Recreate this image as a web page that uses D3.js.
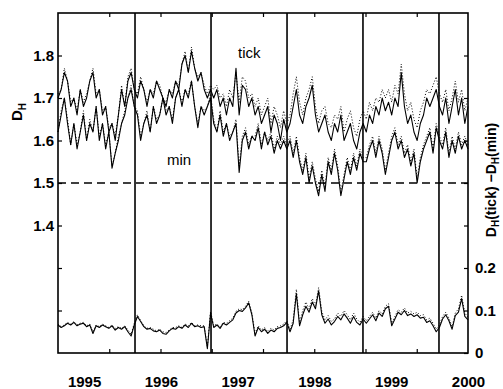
<!DOCTYPE html>
<html>
<head>
<meta charset="utf-8">
<script src="https://cdn.jsdelivr.net/npm/d3@7"></script>
<style>
  body { margin: 0; background: #fff; }
  svg { display: block; font-family: "Liberation Sans", Arial, sans-serif; }
</style>
</head>
<body>
<svg id="chart"></svg>
<script>
const width = 503, height = 389;

// fractal dimension D_H, sampled twice a month from mid 1994 to the end of 1999
const tickDH = [
  1.70,1.72,1.76,1.74,1.68,1.70,1.66,1.72,1.68,1.70,1.74,1.76,1.70,1.72,1.66,1.68,1.62,1.64,1.60,1.66,1.72,1.68,1.74,1.76,1.72,
  1.70,1.74,1.72,1.68,1.72,1.70,1.74,1.72,1.70,1.68,1.72,1.70,1.74,1.72,1.78,1.80,1.76,1.81,1.77,1.74,1.76,1.72,1.70,1.72,
  1.70,1.72,1.68,1.70,1.66,1.70,1.68,1.77,1.66,1.73,1.72,1.68,1.70,1.66,1.68,1.64,1.66,1.68,1.62,1.66,1.64,1.60,1.65,1.62,
  1.64,1.68,1.72,1.66,1.64,1.68,1.70,1.73,1.66,1.62,1.64,1.66,1.62,1.60,1.64,1.62,1.66,1.60,1.62,1.64,1.60,1.58,1.62,1.64,
  1.62,1.66,1.64,1.68,1.66,1.70,1.67,1.69,1.66,1.70,1.68,1.76,1.68,1.64,1.66,1.62,1.60,1.64,1.66,1.70,1.68,1.70,1.72,1.68,
  1.66,1.70,1.64,1.68,1.72,1.66,1.70,1.64,1.68
];
const tickDHalt = [
  1.71,1.72,1.77,1.74,1.69,1.70,1.67,1.72,1.69,1.71,1.74,1.77,1.71,1.72,1.67,1.68,1.63,1.64,1.61,1.66,1.73,1.68,1.75,1.77,1.72,
  1.71,1.75,1.72,1.69,1.72,1.71,1.74,1.73,1.70,1.69,1.72,1.71,1.74,1.73,1.78,1.81,1.76,1.82,1.77,1.75,1.76,1.73,1.71,1.73,
  1.72,1.73,1.70,1.71,1.68,1.72,1.70,1.76,1.69,1.75,1.74,1.70,1.71,1.68,1.70,1.66,1.68,1.70,1.64,1.68,1.66,1.63,1.67,1.64,
  1.66,1.71,1.75,1.69,1.66,1.70,1.72,1.75,1.68,1.64,1.67,1.68,1.64,1.63,1.66,1.65,1.68,1.62,1.65,1.67,1.63,1.61,1.65,1.67,
  1.65,1.69,1.67,1.70,1.69,1.72,1.70,1.72,1.69,1.73,1.71,1.78,1.71,1.67,1.69,1.65,1.63,1.67,1.69,1.72,1.71,1.73,1.75,1.71,
  1.69,1.72,1.67,1.70,1.74,1.69,1.72,1.67,1.70
];
const minDH = [
  1.62,1.66,1.70,1.64,1.59,1.64,1.58,1.62,1.66,1.60,1.64,1.62,1.68,1.60,1.64,1.58,1.62,1.535,1.57,1.60,1.64,1.66,1.70,1.72,1.68,
  1.66,1.60,1.64,1.66,1.62,1.68,1.64,1.66,1.70,1.66,1.68,1.64,1.70,1.72,1.68,1.72,1.70,1.74,1.68,1.63,1.68,1.66,1.68,1.70,
  1.64,1.62,1.66,1.61,1.64,1.60,1.62,1.64,1.525,1.60,1.62,1.58,1.61,1.60,1.63,1.58,1.62,1.59,1.61,1.57,1.60,1.58,1.60,1.58,
  1.60,1.56,1.60,1.55,1.52,1.56,1.50,1.54,1.50,1.47,1.52,1.48,1.55,1.52,1.57,1.53,1.47,1.51,1.55,1.52,1.56,1.53,1.57,1.55,
  1.55,1.58,1.60,1.56,1.60,1.57,1.52,1.56,1.60,1.62,1.58,1.60,1.56,1.58,1.54,1.57,1.50,1.55,1.58,1.60,1.62,1.57,1.63,1.60,
  1.58,1.62,1.56,1.60,1.57,1.61,1.58,1.60,1.58
];
const minDHalt = [
  1.62,1.67,1.70,1.65,1.59,1.64,1.59,1.62,1.67,1.60,1.65,1.62,1.68,1.61,1.64,1.59,1.62,1.54,1.57,1.61,1.64,1.67,1.70,1.73,1.68,
  1.67,1.61,1.64,1.67,1.62,1.68,1.65,1.66,1.70,1.67,1.68,1.65,1.70,1.72,1.69,1.72,1.71,1.74,1.68,1.64,1.68,1.67,1.68,1.71,
  1.65,1.62,1.67,1.62,1.64,1.61,1.62,1.65,1.54,1.61,1.63,1.59,1.61,1.61,1.64,1.59,1.62,1.60,1.62,1.58,1.61,1.59,1.61,1.59,
  1.61,1.57,1.61,1.56,1.53,1.57,1.51,1.55,1.51,1.48,1.53,1.49,1.56,1.53,1.58,1.54,1.48,1.52,1.56,1.53,1.57,1.54,1.58,1.56,
  1.56,1.59,1.61,1.57,1.61,1.58,1.53,1.57,1.61,1.63,1.59,1.61,1.57,1.59,1.55,1.58,1.51,1.56,1.59,1.61,1.63,1.58,1.64,1.61,
  1.59,1.63,1.57,1.61,1.58,1.62,1.59,1.61,1.59
];
// D_H(tick) - D_H(min), right axis
const diffDH = [
  0.066,0.060,0.064,0.070,0.066,0.072,0.064,0.068,0.070,0.062,0.066,0.046,0.064,0.060,0.066,0.062,0.058,0.064,0.054,0.060,0.056,0.062,0.050,0.040,0.066,
  0.086,0.074,0.062,0.056,0.058,0.052,0.050,0.054,0.046,0.044,0.052,0.058,0.056,0.062,0.058,0.066,0.060,0.070,0.062,0.064,0.060,0.062,0.010,0.094,
  0.060,0.066,0.058,0.070,0.066,0.072,0.078,0.094,0.100,0.098,0.106,0.118,0.090,0.040,0.060,0.050,0.056,0.046,0.054,0.050,0.058,0.060,0.064,0.072,
  0.050,0.070,0.140,0.064,0.090,0.110,0.096,0.120,0.104,0.146,0.090,0.070,0.080,0.066,0.074,0.086,0.078,0.092,0.082,0.070,0.086,0.072,0.066,0.080,
  0.070,0.080,0.090,0.076,0.094,0.086,0.104,0.110,0.064,0.080,0.096,0.090,0.100,0.088,0.092,0.086,0.090,0.082,0.084,0.072,0.076,0.064,0.050,0.060,
  0.080,0.090,0.076,0.056,0.088,0.096,0.128,0.086,0.078
];
const diffDHalt = [
  0.068,0.062,0.066,0.072,0.068,0.074,0.066,0.070,0.072,0.064,0.068,0.050,0.066,0.062,0.068,0.064,0.060,0.066,0.058,0.062,0.058,0.064,0.054,0.044,0.070,
  0.090,0.076,0.064,0.058,0.060,0.056,0.052,0.056,0.050,0.048,0.054,0.060,0.060,0.064,0.060,0.068,0.064,0.072,0.064,0.066,0.064,0.064,0.014,0.098,
  0.064,0.068,0.062,0.072,0.070,0.076,0.082,0.098,0.104,0.102,0.110,0.122,0.094,0.046,0.064,0.054,0.060,0.050,0.058,0.054,0.062,0.064,0.068,0.076,
  0.056,0.078,0.150,0.072,0.100,0.120,0.104,0.128,0.112,0.154,0.098,0.078,0.088,0.074,0.080,0.094,0.086,0.100,0.090,0.078,0.094,0.080,0.072,0.086,
  0.076,0.086,0.096,0.082,0.100,0.092,0.110,0.116,0.070,0.086,0.102,0.096,0.106,0.094,0.098,0.092,0.096,0.088,0.090,0.078,0.082,0.070,0.056,0.066,
  0.086,0.096,0.082,0.062,0.094,0.104,0.136,0.094,0.084
];

const years = [1995, 1996, 1997, 1998, 1999, 2000];
const rollovers = [1995.663, 1996.653, 1997.643, 1998.632, 1999.622];
const leftTicks = [1.2, 1.3, 1.4, 1.5, 1.6, 1.7, 1.8];
const rightTicks = [0, 0.1, 0.2, 0.3, 0.4, 0.5, 0.6, 0.7];
const refLevel = 1.5;

const svg = d3.select("#chart")
  .attr("width", width)
  .attr("height", height)
  .attr("viewBox", [0, 0, width, height]);

const x = d3.scaleLinear().domain([1994.66, 2000.0]).range([58, 468]);
const xi = d3.scaleLinear().domain([0, tickDH.length - 1]).range(x.range());
const yL = d3.scaleLinear().domain([1.1, 1.9]).range([353, 13]);
const yR = d3.scaleLinear().domain([0, 0.8]).range([353, 13]);

const [x0, x1] = x.domain();
const frameTicks = d3.range(1, 8).map(k => x0 + k * (x1 - x0) / 8);

function styleAxis(g) {
  g.select(".domain").remove();
  g.selectAll("line").attr("stroke", "#000").attr("stroke-width", 1.2);
  g.selectAll("text")
    .attr("font-family", "'Liberation Sans', Arial, sans-serif")
    .attr("font-size", 15)
    .attr("font-weight", "bold")
    .attr("fill", "#000");
}

// left axis, inward ticks
svg.append("g")
  .attr("transform", `translate(${x.range()[0]},0)`)
  .call(d3.axisLeft(yL).tickValues(leftTicks).tickSize(-4).tickPadding(4)
    .tickFormat(d => d >= 1.4 ? d3.format(".1f")(d) : ""))
  .call(styleAxis);

// right axis for the difference
svg.append("g")
  .attr("transform", `translate(${x.range()[1]},0)`)
  .call(d3.axisRight(yR).tickValues(rightTicks).tickSize(-4).tickPadding(7)
    .tickFormat(d => d === 0 ? "0" : d <= 0.2 ? d3.format(".1f")(d) : ""))
  .call(styleAxis);

svg.append("g")
  .attr("transform", `translate(0,${yL.range()[1]})`)
  .call(d3.axisTop(x).tickValues(frameTicks).tickSize(-4).tickFormat(""))
  .call(styleAxis);

svg.append("g")
  .attr("transform", `translate(0,${yL.range()[0]})`)
  .call(d3.axisBottom(x).tickValues(frameTicks).tickSize(-4).tickFormat(""))
  .call(styleAxis);

// year labels
svg.append("g")
  .attr("transform", `translate(0,${yL.range()[0]})`)
  .call(d3.axisBottom(x).tickValues(years).tickSize(0).tickPadding(23).tickFormat(d3.format("d")))
  .call(styleAxis);

// reference level
svg.append("line")
  .attr("x1", x.range()[0]).attr("x2", x.range()[1])
  .attr("y1", yL(refLevel)).attr("y2", yL(refLevel))
  .attr("stroke", "#000")
  .attr("stroke-width", 1.3)
  .attr("stroke-dasharray", "8,5");

const lineL = d3.line().x((d, i) => xi(i)).y(d => yL(d));
const lineR = d3.line().x((d, i) => xi(i)).y(d => yR(d));

const series = [
  { values: tickDHalt, gen: lineL, dash: "1,2", w: 1 },
  { values: minDHalt, gen: lineL, dash: "1,2", w: 1 },
  { values: diffDHalt, gen: lineR, dash: "1,2", w: 1 },
  { values: tickDH, gen: lineL, dash: null, w: 1.1 },
  { values: minDH, gen: lineL, dash: null, w: 1.1 },
  { values: diffDH, gen: lineR, dash: null, w: 1.1 }
];

svg.selectAll("path.series")
  .data(series)
  .enter().append("path")
  .attr("class", "series")
  .attr("d", d => d.gen(d.values))
  .attr("fill", "none")
  .attr("stroke", "#000")
  .attr("stroke-width", d => d.w)
  .attr("stroke-linejoin", "round")
  .attr("stroke-dasharray", d => d.dash);

// contract rollover markers
svg.selectAll("line.roll")
  .data(rollovers)
  .enter().append("line")
  .attr("class", "roll")
  .attr("x1", d => x(d)).attr("x2", d => x(d))
  .attr("y1", yL.range()[1]).attr("y2", yL.range()[0])
  .attr("stroke", "#000")
  .attr("stroke-width", 1.6);

// frame
svg.append("rect")
  .attr("x", x.range()[0]).attr("y", yL.range()[1])
  .attr("width", x.range()[1] - x.range()[0])
  .attr("height", yL.range()[0] - yL.range()[1])
  .attr("fill", "none")
  .attr("stroke", "#000")
  .attr("stroke-width", 1.6);

svg.append("text")
  .attr("x", 238).attr("y", 58)
  .attr("font-size", 15)
  .text("tick");

svg.append("text")
  .attr("x", 167).attr("y", 165)
  .attr("font-size", 15)
  .text("min");

// axis titles with subscripts
const leftTitle = svg.append("text")
  .attr("transform", "translate(22,112) rotate(-90)")
  .attr("text-anchor", "middle")
  .attr("font-size", 15)
  .attr("font-weight", "bold");
leftTitle.append("tspan").text("D");
leftTitle.append("tspan").attr("dy", 4).attr("font-size", 10).text("H");

const rightTitle = svg.append("text")
  .attr("transform", "translate(496,180) rotate(-90)")
  .attr("text-anchor", "middle")
  .attr("font-size", 14)
  .attr("font-weight", "bold");
rightTitle.append("tspan").text("D");
rightTitle.append("tspan").attr("dy", 3).attr("font-size", 10).text("H");
rightTitle.append("tspan").attr("dy", -3).text("(tick) \u2212D");
rightTitle.append("tspan").attr("dy", 3).attr("font-size", 10).text("H");
rightTitle.append("tspan").attr("dy", -3).text("(min)");
</script>
</body>
</html>
